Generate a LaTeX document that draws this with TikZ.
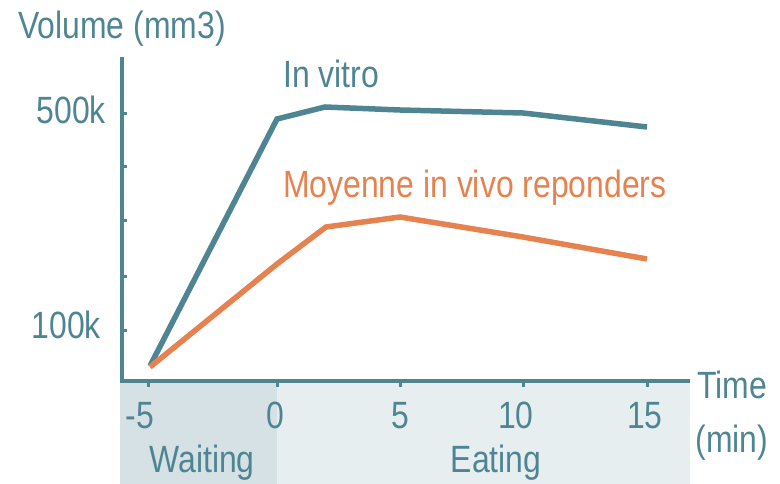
\documentclass[tikz,border=0pt]{standalone}
\usepackage{fontspec}
\setmainfont[FakeStretch=0.84]{Liberation Sans}
\definecolor{teal}{HTML}{4F8592}
\definecolor{orng}{HTML}{E5824F}
\definecolor{waitbg}{HTML}{D6E1E6}
\definecolor{eatbg}{HTML}{E7EEF0}
\tikzset{
  lbl/.style={inner sep=0pt, font=\fontsize{38}{40}\selectfont, text=teal},
  olbl/.style={inner sep=0pt, font=\fontsize{38}{40}\selectfont, text=orng},
  axisline/.style={draw=teal, line width=3.5pt},
  tickmark/.style={draw=teal, line width=3pt},
  series/.style={line width=5.5pt},
}
\begin{document}
\begin{tikzpicture}[x=1pt,y=-1pt]
\useasboundingbox (0,0) rectangle (780,484);
% bands
\fill[waitbg] (120,383) rectangle (277,484);
\fill[eatbg] (277,383) rectangle (690,484);
% axes
\coordinate (ytop) at (122,57);
\coordinate (origin) at (122,381);
\coordinate (xend) at (690,381);
\draw[axisline] (ytop) -- (origin) -- (xend);
% y ticks
\foreach \yy in {114,167,221,276,330} \draw[tickmark] (122,\yy) -- (126.5,\yy);
% x ticks
\foreach \xx in {148,277,400,523,647} \draw[tickmark] (\xx,381) -- (\xx,387);
% labels
\node[lbl, anchor=base west] (ylab) at (18,39) {Volume (mm3)};
\node[lbl, anchor=base east] (l500) at (106,124) {500k};
\node[lbl, anchor=base east] (l100) at (101,338) {100k};
\node[lbl, anchor=base] (tm5) at (140,428) {-5};
\node[lbl, anchor=base] (t0) at (275,428) {0};
\node[lbl, anchor=base] (t5) at (400,428) {5};
\node[lbl, anchor=base] (t10) at (516,428) {10};
\node[lbl, anchor=base] (t15) at (645,428) {15};
\node[lbl, anchor=base] (wait) at (202,472) {Waiting};
\node[lbl, anchor=base] (eat) at (496,472) {Eating};
\node[lbl, anchor=base] (time) at (732,398) {Time};
\node[lbl, anchor=base] (mins) at (732,452) {(min)};
\node[lbl, anchor=base west] (vitro) at (283,88) {In vitro};
\node[olbl, anchor=base west] (vivo) at (283,198) {Moyenne in vivo reponders};
% data points
\coordinate (a0) at (150,366);
\coordinate (a1) at (277,119);
\coordinate (a2) at (325,107);
\coordinate (a3) at (400,110);
\coordinate (a4) at (523,113);
\coordinate (a5) at (647,127);
\coordinate (b0) at (150,367);
\coordinate (b1) at (277,264);
\coordinate (b2) at (326,227);
\coordinate (b3) at (400,217);
\coordinate (b4) at (523,237);
\coordinate (b5) at (647,259);
\draw[series, teal] (a0) -- (a1) -- (a2) -- (a3) -- (a4) -- (a5);
\draw[series, orng] (b0) -- (b1) -- (b2) -- (b3) -- (b4) -- (b5);
\end{tikzpicture}
\end{document}
